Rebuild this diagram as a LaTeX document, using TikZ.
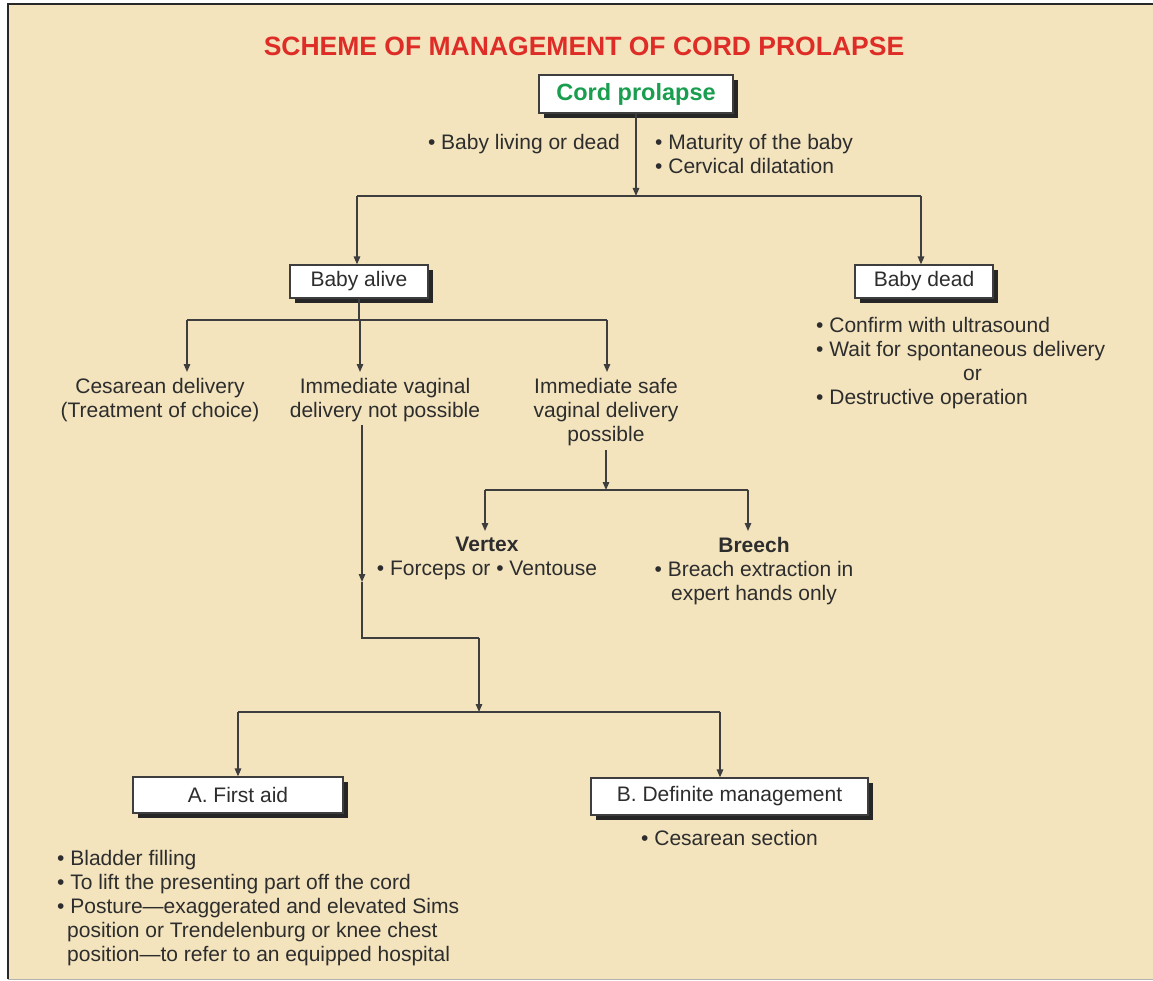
\documentclass[tikz,border=0pt]{standalone}
\usepackage{fontspec}
\setmainfont{Liberation Sans}
\usetikzlibrary{positioning,arrows.meta,shadows}
\definecolor{paper}{RGB}{243,228,190}
\definecolor{ink}{RGB}{45,45,45}
\definecolor{wire}{RGB}{62,62,62}
\definecolor{heading}{RGB}{222,45,38}
\definecolor{cordgreen}{RGB}{24,158,78}
\definecolor{frame}{RGB}{40,40,40}
\tikzset{
  arrow/.style={-{Triangle[length=8pt,width=6.5pt]}, line width=1.4pt, draw=wire},
  cue/.style={arrow, shorten >=6pt},
  link/.style={line width=1.4pt, draw=wire},
  note/.style={font=\fontsize{21}{24}\selectfont, text=ink, inner sep=0pt},
  box/.style={draw=wire, line width=1.2pt, fill=white, text=ink, inner sep=2pt,
    font=\fontsize{21}{24}\selectfont,
    drop shadow={shadow xshift=5pt, shadow yshift=-5pt, fill=black!85, opacity=1}},
  title/.style={font=\bfseries\fontsize{26.5}{30}\selectfont, text=heading},
}

\begin{document}
\begin{tikzpicture}[x=1pt,y=-1pt]
  \useasboundingbox (0,0) rectangle (1153,981);
  \fill[white] (0,0) rectangle (1153,981);
  \fill[paper] (8,4) rectangle (1153,979);
  \draw[frame, line width=2.5pt] (8,979) -- (8,4) -- (1153,4);
  \draw[black!30, line width=1.5pt] (8,979.5) -- (1153,979.5);

  % Heading and root
  \node[title] (head) at (584,46) {SCHEME OF MANAGEMENT OF CORD PROLAPSE};
  \node[box, minimum width=194pt, minimum height=38pt, text=cordgreen,
    font=\bfseries\fontsize{23.5}{28}\selectfont] (cord) at (636,94) {Cord prolapse};
  \node[note, anchor=north east] (cord-why) at (620,134) {• Baby living or dead};
  \node[note, anchor=north west, align=left] (cord-how) at (655,134) {• Maturity of the baby\\• Cervical dilatation};

  % Living or dead
  \node[box, minimum width=138pt, minimum height=33pt] (alive) at (359,281.5) {Baby alive};
  \node[box, minimum width=138pt, minimum height=33pt] (dead) at (924,281.5) {Baby dead};
  \node[note, anchor=north west, align=left] (dead-list) at (816,317)
    {• Confirm with ultrasound\\• Wait for spontaneous delivery\\\hspace*{147pt}or\\• Destructive operation};

  % Options for a living baby
  \node[note, anchor=north, align=center] (cesar) at (160,378) {Cesarean delivery\\(Treatment of choice)};
  \node[note, anchor=north, align=center] (novag) at (385,378) {Immediate vaginal\\delivery not possible};
  \node[note, anchor=north, align=center] (safevag) at (606,378) {Immediate safe\\vaginal delivery\\possible};
  \node[note, anchor=north, align=center] (vertex) at (487,537) {\textbf{Vertex}\\• Forceps or • Ventouse};
  \node[note, anchor=north, align=center] (breech) at (754,537) {\textbf{Breech}\\• Breach extraction in\\expert hands only};

  % Management
  \node[box, minimum width=210pt, minimum height=36pt] (aid) at (238,795) {A. First aid};
  \node[box, minimum width=277pt, minimum height=37pt] (manage) at (729.5,796.5) {B. Definite management};
  \node[note, anchor=north west, align=left] (aid-list) at (57,850)
    {• Bladder filling\\• To lift the presenting part off the cord\\• Posture—exaggerated and elevated Sims\\\hspace*{10pt}position or Trendelenburg or knee chest\\\hspace*{10pt}position—to refer to an equipped hospital};
  \node[note, below=14pt of manage] (manage-list) {• Cesarean section};

  % Junction points
  \coordinate (split) at (637,196);
  \coordinate (split-l) at (357,196);
  \coordinate (split-r) at (921,196);
  \coordinate (fork) at (360,320);
  \coordinate (fork-l) at (187,320);
  \coordinate (fork-r) at (607,320);
  \coordinate (safe-fork) at (607,490);
  \coordinate (safe-l) at (485,490);
  \coordinate (safe-r) at (748,490);
  \coordinate (drop) at (362,582);
  \coordinate (turn) at (362,638);
  \coordinate (join) at (479,638);
  \coordinate (aid-fork) at (479,712);
  \coordinate (aid-l) at (238,712);
  \coordinate (aid-r) at (720,712);

  % Connections
  \draw[arrow] (cord.south) -- (cord.south |- split);
  \draw[link] (split-l) -- (split-r);
  \draw[arrow] (split-l) -- (alive.north -| split-l);
  \draw[arrow] (split-r) -- (dead.north -| split-r);

  \draw[link] (alive.south) -- (alive.south |- fork);
  \draw[link] (fork-l) -- (fork-r);
  \draw[cue] (fork-l) -- (fork-l |- cesar.north);
  \draw[cue] (fork) -- (fork |- novag.north);
  \draw[cue] (fork-r) -- (fork-r |- safevag.north);

  \draw[arrow, shorten <=4pt] (safevag.south) -- (safevag.south |- safe-fork);
  \draw[link] (safe-l) -- (safe-r);
  \draw[cue] (safe-l) -- (safe-l |- vertex.north);
  \draw[cue] (safe-r) -- (safe-r |- breech.north);

  \draw[arrow, shorten <=3pt] (novag.south -| drop) -- (drop);
  \draw[link] (drop) -- (turn) -- (join);
  \draw[arrow] (join) -- (aid-fork);
  \draw[link] (aid-l) -- (aid-r);
  \draw[arrow] (aid-l) -- (aid.north -| aid-l);
  \draw[arrow] (aid-r) -- (manage.north -| aid-r);
\end{tikzpicture}
\end{document}
